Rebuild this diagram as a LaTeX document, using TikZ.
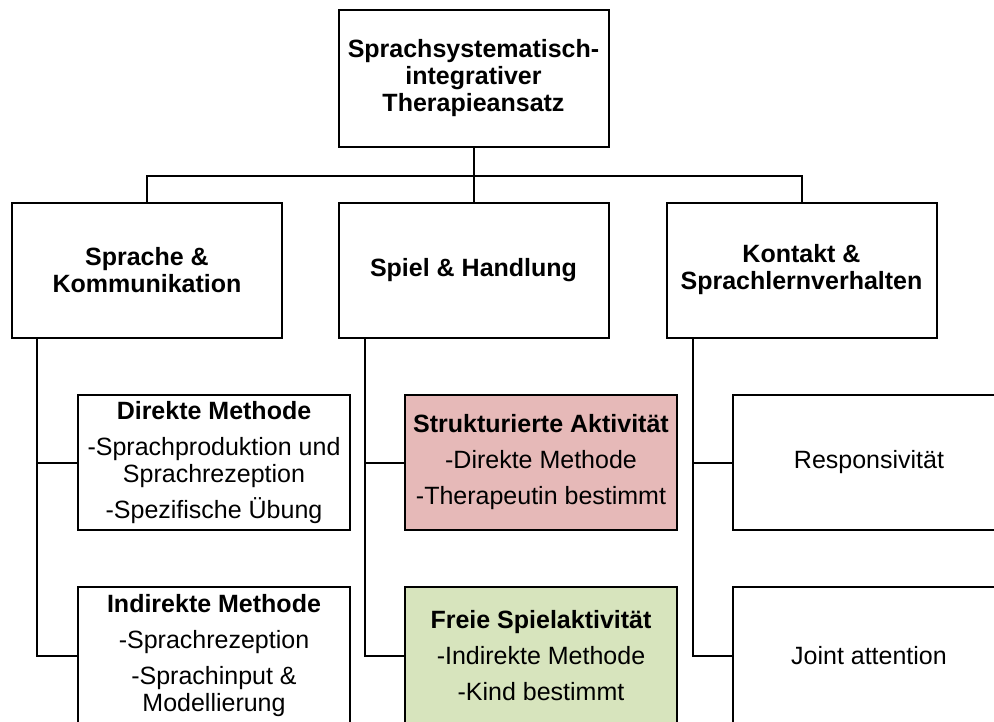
\documentclass[tikz,border=0pt]{standalone}
\usepackage{fontspec}
\setmainfont{Liberation Sans}
\usetikzlibrary{positioning}
\definecolor{stRed}{RGB}{230,185,184}
\definecolor{stGreen}{RGB}{215,228,189}
\tikzset{
    base/.style={font=\fontsize{25}{27}\selectfont, align=center},
    topic/.style={base, rectangle, draw=black, line width=2pt, fill=white,
                  minimum width=270pt, minimum height=135pt, inner sep=0pt},
    method/.style={topic, minimum width=272pt},
    conn/.style={draw=black, line width=2pt}
}

\begin{document}
\begin{tikzpicture}[x=1pt, y=-1pt]
  \clip (0,0) rectangle (994,721);
  \fill[white] (0,0) rectangle (994,721);

  % Root
  \node[topic, minimum height=137pt] (root) at (473.5,78.5)
    {\textbf{Sprachsystematisch-}\\\textbf{integrativer}\\\textbf{Therapieansatz}};

  % Second level
  \node[topic] (sk) at (147,270) {\textbf{Sprache \&}\\\textbf{Kommunikation}};
  \node[topic] (sh) at (473.5,270) {\textbf{Spiel \& Handlung}};
  \node[topic] (kv) at (801.5,270) {\textbf{Kontakt \&}\\\textbf{Sprachlernverhalten}};

  \coordinate (hub) at (473.5,176);
  \draw[conn] (root) -- (hub);
  \draw[conn] (hub) -- (sh.north);
  \draw[conn] (hub) -| (sk.north);
  \draw[conn] (hub) -| (kv.north);

  % Sprache & Kommunikation
  \node[method] (dm) at (214,462.5)
    {\textbf{Direkte Methode}\\[9pt]-Sprachproduktion und\\Sprachrezeption\\[9pt]-Spezifische Übung};
  \node[method, minimum height=138pt] (im) at (214,656)
    {\textbf{Indirekte Methode}\\[9pt]-Sprachrezeption\\[9pt]-Sprachinput \&\\Modellierung};
  \draw[conn] ([xshift=26pt]sk.south west) |- (dm.west);
  \draw[conn] ([xshift=26pt]sk.south west) |- (im.west);

  % Spiel & Handlung
  \node[method, fill=stRed] (sa) at (541,462.5)
    {\textbf{Strukturierte Aktivität}\\[9pt]-Direkte Methode\\[9pt]-Therapeutin bestimmt};
  \node[method, fill=stGreen, minimum height=138pt] (fs) at (541,656)
    {\textbf{Freie Spielaktivität}\\[9pt]-Indirekte Methode\\[9pt]-Kind bestimmt};
  \draw[conn] ([xshift=27pt]sh.south west) |- (sa.west);
  \draw[conn] ([xshift=27pt]sh.south west) |- (fs.west);

  % Kontakt & Sprachlernverhalten
  \node[method] (rv) at (869,462.5) {Responsivität};
  \node[method, minimum height=138pt] (ja) at (869,656) {Joint attention};
  \draw[conn] ([xshift=27pt]kv.south west) |- (rv.west);
  \draw[conn] ([xshift=27pt]kv.south west) |- (ja.west);
\end{tikzpicture}
\end{document}
